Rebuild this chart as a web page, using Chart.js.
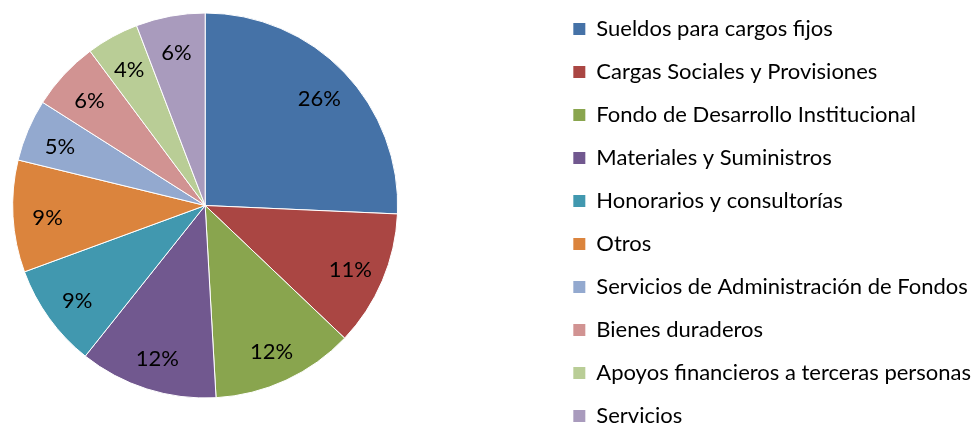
<!DOCTYPE html>
<html><head><meta charset="utf-8">
<script src="https://cdn.jsdelivr.net/npm/chart.js@4/dist/chart.umd.min.js"></script>
<style>
html,body{margin:0;padding:0;width:978px;height:430px;overflow:hidden;background:#fff;}
#wrap{position:absolute;left:-142px;top:-37px;}
</style></head><body>
<div id="wrap"><canvas id="c"></canvas></div>
<script>
const categories = [
  'Sueldos para cargos fijos',
  'Cargas Sociales y Provisiones',
  'Fondo de Desarrollo Institucional',
  'Materiales y Suministros',
  'Honorarios y consultorías',
  'Otros',
  'Servicios de Administración de Fondos',
  'Bienes duraderos',
  'Apoyos financieros a terceras personas',
  'Servicios'
];
const values = [25.7, 11.4, 12.0, 11.6, 8.7, 9.4, 5.2, 5.8, 4.4, 5.8];
const colors = ['#4572A7','#AA4643','#89A54E','#71588F','#4198AF','#DB843D','#93A9CF','#D19392','#B9CD96','#A99BBD'];

const FONT = 'Lato';
const FS = 22;
Chart.defaults.font.family = FONT;
Chart.defaults.font.size = FS;
Chart.defaults.color = '#000';

// measure widest legend text so that legend boxes start at the same x as the reference
const mctx = document.createElement('canvas').getContext('2d');
mctx.font = FS + 'px ' + FONT;
let tw = 0;
categories.forEach(c => { tw = Math.max(tw, mctx.measureText(c).width); });

const canvas = document.getElementById('c');
canvas.width = Math.round(748 + tw);
canvas.height = 485;

const pctLabels = {
  id: 'pctLabels',
  afterDatasetsDraw(chart) {
    const ctx = chart.ctx;
    const meta = chart.getDatasetMeta(0);
    const data = chart.data.datasets[0].data;
    const total = data.reduce((a, b) => a + b, 0);
    ctx.save();
    ctx.font = FS + 'px ' + FONT;
    ctx.fillStyle = '#000';
    ctx.textAlign = 'center';
    ctx.textBaseline = 'middle';
    meta.data.forEach((arc, i) => {
      const p = arc.getProps(['x', 'y', 'startAngle', 'endAngle', 'outerRadius'], true);
      const mid = (p.startAngle + p.endAngle) / 2;
      const r = p.outerRadius * 0.82;
      ctx.fillText(Math.round(data[i] / total * 100) + '%', p.x + Math.cos(mid) * r, p.y + Math.sin(mid) * r + 3);
    });
    ctx.restore();
  }
};

new Chart(canvas, {
  type: 'pie',
  data: {
    labels: categories,
    datasets: [{
      data: values,
      backgroundColor: colors,
      borderColor: '#ffffff',
      borderWidth: 1,
      radius: 192.5
    }]
  },
  options: {
    responsive: false,
    animation: false,
    layout: { padding: 0 },
    plugins: {
      tooltip: { enabled: false },
      legend: {
        position: 'right',
        align: 'end',
        labels: {
          boxWidth: 12,
          boxHeight: 12,
          padding: 21,
          color: '#000',
          font: { family: FONT, size: FS },
          generateLabels: (chart) => Chart.overrides.pie.plugins.legend.labels.generateLabels(chart).map(l => Object.assign(l, { lineWidth: 0 }))
        }
      }
    }
  },
  plugins: [pctLabels]
});
</script>
</body></html>
